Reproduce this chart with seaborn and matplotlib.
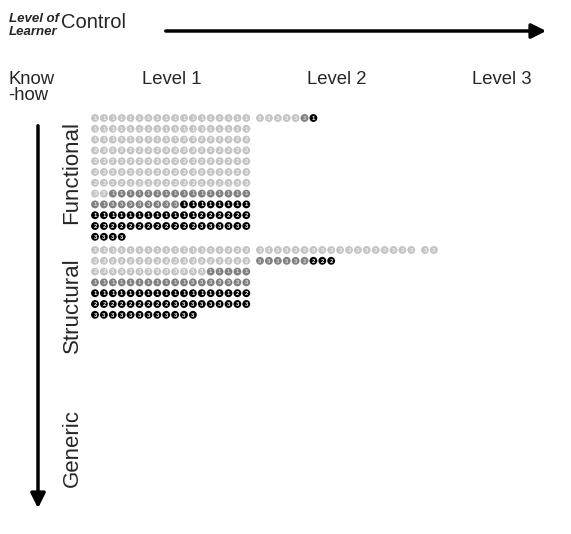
import matplotlib
matplotlib.use("Agg")
import matplotlib.pyplot as plt
import seaborn as sns
import pandas as pd

sns.set_theme(style="white")
plt.rcParams['font.family'] = ['Liberation Sans', 'DejaVu Sans']

levels = ["Level 1", "Level 2", "Level 3"]
knowhow = ["Functional", "Structural", "Generic"]

# runs of (shade, digit, count) for each know-how / level cell
functional_l1 = [("light", 1, 46), ("light", 2, 77), ("light", 3, 5),
                 ("medium", 1, 18), ("medium", 3, 8),
                 ("dark", 1, 20), ("dark", 2, 18), ("dark", 3, 10)]
functional_l2 = [("light", 3, 5), ("medium", 3, 1), ("dark", 1, 1)]
functional_l3 = []
structural_l1 = [("light", 1, 15), ("light", 2, 23), ("light", 3, 11),
                 ("medium", 1, 16), ("medium", 3, 7),
                 ("dark", 1, 16), ("dark", 2, 11), ("dark", 3, 21)]
structural_l2 = [("light", 2, 1), ("light", 3, 17), ("medium", 3, 6), ("dark", 2, 3)]
structural_l3 = [("light", 3, 2)]
generic_l1 = []
generic_l2 = []
generic_l3 = []

cells = {
    ("Functional", "Level 1"): functional_l1,
    ("Functional", "Level 2"): functional_l2,
    ("Functional", "Level 3"): functional_l3,
    ("Structural", "Level 1"): structural_l1,
    ("Structural", "Level 2"): structural_l2,
    ("Structural", "Level 3"): structural_l3,
    ("Generic", "Level 1"): generic_l1,
    ("Generic", "Level 2"): generic_l2,
    ("Generic", "Level 3"): generic_l3,
}

# layout (pixel units)
per_row = 18
dx, dy = 8.9, 10.8
col_x0 = {"Level 1": 95, "Level 2": 260, "Level 3": 425}
band_y0 = {"Functional": 118, "Structural": 250, "Generic": 400}
label_y = {"Functional": 173, "Structural": 305, "Generic": 448}

dot_color = {"light": "#c4c4c4", "medium": "#808080", "dark": "#000000"}
digit_color = {"light": "#f2f2f2", "medium": "#d9d9d9", "dark": "#ffffff"}

rows = []
for (kh, lv), runs in cells.items():
    i = 0
    for shade, digit, count in runs:
        for _ in range(count):
            rows.append({
                "knowhow": kh, "level": lv, "shade": shade, "digit": digit,
                "x": col_x0[lv] + (i % per_row) * dx,
                "y": band_y0[kh] + (i // per_row) * dy,
            })
            i += 1
df = pd.DataFrame(rows)

fig = plt.figure(figsize=(5.71, 5.34), dpi=100)
ax = fig.add_axes([0, 0, 1, 1])

sns.scatterplot(data=df, x="x", y="y", hue="shade", palette=dot_color,
                s=32, edgecolor="none", legend=False, ax=ax)
for _, r in df.iterrows():
    ax.text(r["x"], r["y"] + 0.3, str(r["digit"]), color=digit_color[r["shade"]],
            fontsize=4.2, fontweight="bold", ha="center", va="center")

ax.set_xlim(0, 571)
ax.set_ylim(534, 0)
ax.axis("off")

# header
ax.text(9, 21.5, "Level of", fontsize=9.5, fontweight="bold", fontstyle="italic", va="baseline")
ax.text(9, 35, "Learner", fontsize=9.5, fontweight="bold", fontstyle="italic", va="baseline")
ax.text(61, 28.5, "Control", fontsize=14.5, va="baseline")
ax.annotate("", xy=(549, 31), xytext=(163, 31),
            arrowprops=dict(arrowstyle="-|>", lw=2.5, color="black", mutation_scale=22))

ax.text(8, 83.5, "Know", fontsize=13.3, va="baseline")
ax.text(8, 100, "-how", fontsize=13.3, va="baseline")
for lv in levels:
    ax.text(col_x0[lv] + 77, 83.5, lv, fontsize=13.3, ha="center", va="baseline")

ax.annotate("", xy=(38, 511), xytext=(38, 123),
            arrowprops=dict(arrowstyle="-|>", lw=2.5, color="black", mutation_scale=22))
for kh in knowhow:
    ax.text(72, label_y[kh], kh, fontsize=16, rotation=90, ha="center", va="center")

fig.savefig("out.png", dpi=100)
